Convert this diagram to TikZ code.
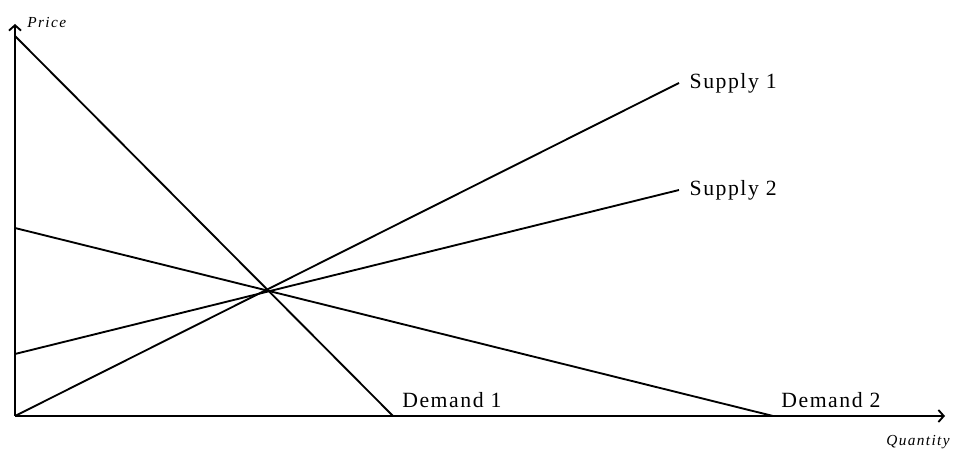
\documentclass[tikz,border=0pt]{standalone}
\usepackage{fontspec}
\setmainfont{Liberation Serif}
\usepackage{tikz}
\usetikzlibrary{arrows.meta}

\begin{document}
\begin{tikzpicture}[x=0.75pt, y=0.75pt, line width=1.4pt, black,
	>={Straight Barb[length=4pt, width=9pt]},
	curveLabel/.style={font=\fontsize{16.3}{19}\selectfont\addfontfeature{LetterSpace=7}},
	axisLabel/.style={font=\fontsize{11.5}{13}\selectfont\itshape\addfontfeature{LetterSpace=9}}]
	
	% fix the margins
	\useasboundingbox (-15,-33) rectangle (940,416);
	
	% draw the axes
	\draw[->] (0,0) -- (930,0);
	\draw[->] (0,0) -- (0,392);
	\node[axisLabel, anchor=west] at (7,393) {Price};
	\node[axisLabel, anchor=east] at (940,-26) {Quantity};
	
	% draw demand lines
	\draw (0,380) -- (378,0);
	\draw (0,188) -- (758,0);
	\node[curveLabel, anchor=south west] at (382,3) {Demand 1};
	\node[curveLabel, anchor=south west] at (761,3) {Demand 2};
	
	% draw supply lines
	\draw (0,0) -- (664,333) node[curveLabel, right=4pt] {Supply 1};
	\draw (0,62) -- (664,226) node[curveLabel, right=4pt] {Supply 2};
\end{tikzpicture}
\end{document}
